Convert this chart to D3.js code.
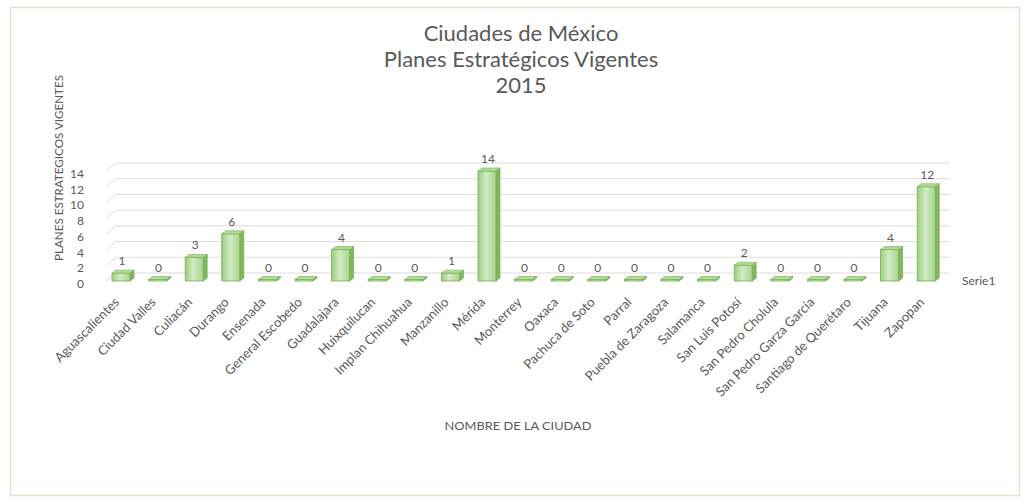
<!DOCTYPE html>
<html>
<head>
<meta charset="utf-8">
<script src="https://cdn.jsdelivr.net/npm/d3@7"></script>
<style>
  html, body { margin: 0; padding: 0; background: #ffffff; }
  svg { display: block; }
  text { font-family: Lato, "Open Sans", sans-serif; fill: #595959; }
</style>
</head>
<body>
<svg id="chart" width="1023" height="498"></svg>
<script>
// Planes estratégicos vigentes por ciudad, 2015
const cities = [
  "Aguascalientes", "Ciudad Valles", "Culiacán", "Durango", "Ensenada",
  "General Escobedo", "Guadalajara", "Huixquilucan", "Implan Chihuahua",
  "Manzanillo", "Mérida", "Monterrey", "Oaxaca", "Pachuca de Soto", "Parral",
  "Puebla de Zaragoza", "Salamanca", "San Luis Potosí", "San Pedro Cholula",
  "San Pedro Garza García", "Santiago de Querétaro", "Tijuana", "Zapopan"
];
const planes = [1, 0, 3, 6, 0, 0, 4, 0, 0, 1, 14, 0, 0, 0, 0, 0, 0, 2, 0, 0, 0, 4, 12];
const yTicks = [0, 2, 4, 6, 8, 10, 12, 14];
const titleLines = ["Ciudades de México", "Planes Estratégicos Vigentes", "2015"];
const seriesName = "Serie1";

const svg = d3.select("#chart");

// outer chart frame
svg.append("rect")
  .attr("x", 10.5).attr("y", 7.5)
  .attr("width", 1009).attr("height", 488)
  .attr("fill", "#ffffff")
  .attr("stroke", "#d5e8c8").attr("stroke-width", 1.5);

const x = d3.scaleBand().domain(cities).range([102.7, 944.5]).padding(0);
const y = d3.scaleLinear().domain([0, 14]).range([281, 171]);

// 3D wall offsets (back wall) and bar depth offsets
const wallDx = 10, wallDy = -8;
const barDx = 4, barDy = -3;
const wallLeft = 106, wallRight = 950;

// gridlines: short diagonal on the side wall, then across the back wall
const grid = svg.append("g").attr("stroke", "#dcdcdc").attr("stroke-width", 1).attr("fill", "none");
yTicks.forEach(v => {
  const yf = y(v);
  grid.append("path")
    .attr("d", `M${wallLeft},${yf} L${wallLeft + wallDx},${yf + wallDy} L${wallRight},${yf + wallDy}`);
});

// y tick labels
svg.append("g").selectAll("text")
  .data(yTicks).join("text")
  .attr("x", 84).attr("y", d => y(d) + 4)
  .attr("text-anchor", "end")
  .attr("dominant-baseline", "middle")
  .attr("font-size", 12)
  .text(d => d);

// y axis title
svg.append("text")
  .attr("transform", "translate(60,168) rotate(-90)")
  .attr("text-anchor", "middle")
  .attr("dominant-baseline", "middle")
  .attr("font-size", 10.5)
  .attr("textLength", 186)
  .attr("lengthAdjust", "spacingAndGlyphs")
  .text("PLANES ESTRATEGICOS VIGENTES");

// gradients for the column faces
const defs = svg.append("defs");
const front = defs.append("linearGradient").attr("id", "frontFace")
  .attr("x1", "0%").attr("x2", "100%").attr("y1", "0%").attr("y2", "0%");
front.append("stop").attr("offset", "0%").attr("stop-color", "#9ccd7e");
front.append("stop").attr("offset", "45%").attr("stop-color", "#d3eac4");
front.append("stop").attr("offset", "100%").attr("stop-color", "#a8d48d");

// columns
const barW = 18;
const bars = svg.append("g");
cities.forEach((c, i) => {
  const v = planes[i];
  const cx = x(c) + x.bandwidth() / 2;
  const x0 = cx - barW / 2, x1 = cx + barW / 2;
  const yb = y(0);
  const yt = Math.min(y(v), yb - 1.5);
  const g = bars.append("g");
  // side face
  g.append("path")
    .attr("d", `M${x1},${yt} L${x1 + barDx},${yt + barDy} L${x1 + barDx},${yb + barDy} L${x1},${yb} Z`)
    .attr("fill", "#80b85e").attr("stroke", "#66a444").attr("stroke-width", 0.6);
  // front face
  g.append("rect")
    .attr("x", x0).attr("y", yt)
    .attr("width", barW).attr("height", yb - yt)
    .attr("fill", "url(#frontFace)")
    .attr("stroke", "#72b04f").attr("stroke-width", 0.8);
  // top face
  g.append("path")
    .attr("d", `M${x0},${yt} L${x0 + barDx},${yt + barDy} L${x1 + barDx},${yt + barDy} L${x1},${yt} Z`)
    .attr("fill", "#b2da99").attr("stroke", "#72b04f").attr("stroke-width", 0.6);
  // data label
  svg.append("text")
    .attr("x", cx + 1).attr("y", yt - 8)
    .attr("text-anchor", "middle")
    .attr("font-size", 12)
    .attr("fill", "#404040")
    .text(v);
});

// category labels, rotated
svg.append("g").selectAll("text")
  .data(cities).join("text")
  .attr("transform", d => `translate(${x(d) + x.bandwidth() / 2 - 1},${303}) rotate(-45)`)
  .attr("text-anchor", "end")
  .attr("font-size", 13)
  .text(d => d);

// series label on the depth axis
svg.append("text")
  .attr("x", 962).attr("y", 282)
  .attr("dominant-baseline", "middle")
  .attr("font-size", 12)
  .text(seriesName);

// x axis title
svg.append("text")
  .attr("x", 518).attr("y", 427)
  .attr("text-anchor", "middle")
  .attr("dominant-baseline", "middle")
  .attr("font-size", 10.5)
  .attr("textLength", 147)
  .attr("lengthAdjust", "spacingAndGlyphs")
  .text("NOMBRE DE LA CIUDAD");

// chart title
svg.append("g").selectAll("text")
  .data(titleLines).join("text")
  .attr("x", 521)
  .attr("y", (d, i) => 35 + i * 26)
  .attr("text-anchor", "middle")
  .attr("dominant-baseline", "middle")
  .attr("font-size", 22)
  .attr("fill", "#404040")
  .text(d => d);
</script>
</body>
</html>
